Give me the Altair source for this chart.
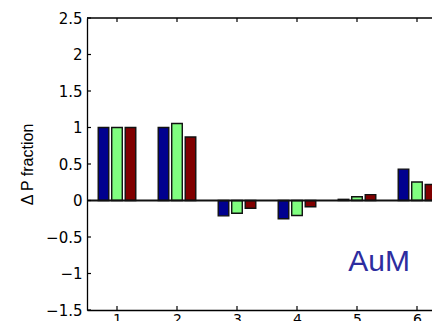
import altair as alt
import pandas as pd

# ---- data ----
groups = [1, 2, 3, 4, 5, 6]
series_names = ["s1", "s2", "s3"]
blue_vals = [1.0, 1.0, -0.21, -0.25, 0.016, 0.43]
green_vals = [1.0, 1.055, -0.175, -0.205, 0.052, 0.253]
red_vals = [1.0, 0.87, -0.107, -0.085, 0.08, 0.22]
bar_colors = ["#00008F", "#80FF80", "#800000"]
y_ticks = [-1.5, -1.0, -0.5, 0.0, 0.5, 1.0, 1.5, 2.0, 2.5]
x_domain = [0.5, 6.25]
y_domain = [-1.5, 2.5]
offsets = [-0.225, 0.0, 0.225]
half_w = 0.088
annot_text = "AuM"
annot_x = 5.37
annot_y = -0.965

rows = []
for s, vals, off in zip(series_names, [blue_vals, green_vals, red_vals], offsets):
    for g, v in zip(groups, vals):
        rows.append({"series": s, "group": g, "value": v,
                     "x0": g + off - half_w, "x1": g + off + half_w})
df = pd.DataFrame(rows)

W, H = 345, 292
xscale = alt.Scale(domain=x_domain, nice=False, zero=False)
yscale = alt.Scale(domain=y_domain, nice=False, zero=False)

xaxis = alt.Axis(values=groups, ticks=False, domain=True, domainColor="black",
                 domainWidth=1.3, labelFont="DejaVu Sans", labelFontSize=14,
                 labelPadding=2, labelColor="black", grid=False, title=None,
                 labelFlush=False, labelOverlap=False, format="d")
yaxis = alt.Axis(values=y_ticks, ticks=False, domain=True, domainColor="black",
                 domainWidth=1.3, labelFont="DejaVu Sans", labelFontSize=15,
                 labelPadding=5, labelColor="black", grid=False, format="~g",
                 labelOverlap=False, labelFlush=False,
                 title="Δ P fraction", titleFont="Liberation Sans",
                 titleFontSize=16, titleFontWeight="normal", titleColor="black",
                 titlePadding=10)


def X(field):
    return alt.X(field, scale=xscale, axis=xaxis, title=None)


def Y(field):
    return alt.Y(field, scale=yscale, axis=yaxis, title="Δ P fraction")


bars = alt.Chart(df).mark_bar(stroke="#111111", strokeWidth=1.4).encode(
    x=X("x0:Q"),
    x2="x1:Q",
    y=Y("value:Q"),
    y2=alt.datum(0),
    color=alt.Color("series:N", scale=alt.Scale(domain=series_names, range=bar_colors), legend=None),
)

zero = alt.Chart(pd.DataFrame({"y": [0]})).mark_rule(color="#111111", strokeWidth=2).encode(
    y=Y("y:Q"))

top_border = alt.Chart(pd.DataFrame({"y": [y_domain[1]]})).mark_rule(color="black", strokeWidth=1.3).encode(
    y=Y("y:Q"))

xt = pd.DataFrame({"t": groups})
yt = pd.DataFrame({"t": y_ticks})
top_ticks = alt.Chart(xt).mark_rule(color="black", strokeWidth=1.2).encode(
    x=X("t:Q"), y=alt.value(0), y2=alt.value(4))
bot_ticks = alt.Chart(xt).mark_rule(color="black", strokeWidth=1.2).encode(
    x=X("t:Q"), y=alt.value(H - 4), y2=alt.value(H))
left_ticks = alt.Chart(yt).mark_rule(color="black", strokeWidth=1.2).encode(
    y=Y("t:Q"), x=alt.value(0), x2=alt.value(4))

annot = alt.Chart(pd.DataFrame({"x": [annot_x], "y": [annot_y], "t": [annot_text]})).mark_text(
    font="Liberation Sans", fontSize=30, color="#2D2D9F", align="center", baseline="alphabetic"
).encode(x=X("x:Q"), y=Y("y:Q"), text="t:N")

chart = alt.layer(bars, zero, top_border, top_ticks, bot_ticks, left_ticks, annot).properties(
    width=W, height=H,
    autosize=alt.AutoSizeParams(type="none"),
    padding={"left": 79, "top": 10, "right": 0, "bottom": 11},
).configure_view(stroke=None)

chart.save("out.html", embed_options={"renderer": "svg", "actions": False})
